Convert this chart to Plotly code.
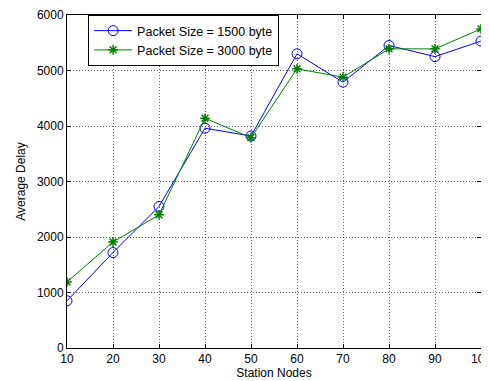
import plotly.graph_objects as go

station_nodes = [10, 20, 30, 40, 50, 60, 70, 80, 90, 100]
delay_1500 = [850, 1720, 2550, 3960, 3820, 5300, 4790, 5450, 5250, 5530]
delay_3000 = [1190, 1910, 2400, 4140, 3790, 5030, 4880, 5390, 5390, 5750]
x_ticks = [10, 20, 30, 40, 50, 60, 70, 80, 90, 100]
y_ticks = [0, 1000, 2000, 3000, 4000, 5000, 6000]

font = dict(family="Liberation Sans, Arial, sans-serif", size=12, color="black")
legend_font = dict(family="Liberation Sans, Arial, sans-serif", size=12.5, color="black")

fig = go.Figure()
fig.add_trace(go.Scatter(
    x=station_nodes, y=delay_1500, mode="lines+markers",
    name="Packet Size = 1500 byte",
    line=dict(color="#0000ff", width=1),
    marker=dict(symbol="circle-open", size=10, color="#0000ff", line=dict(width=1)),
))
fig.add_trace(go.Scatter(
    x=station_nodes, y=delay_3000, mode="lines+markers",
    name="Packet Size = 3000 byte",
    line=dict(color="#008000", width=1),
    marker=dict(symbol="asterisk-open", size=8, color="#008000", line=dict(width=1.5, color="#008000")),
))

axis_common = dict(
    showline=True, linecolor="black", linewidth=1, mirror="ticks",
    ticks="inside", ticklen=4, tickcolor="black",
    showgrid=True, gridcolor="rgba(0,0,0,0.6)", griddash="1px,2px", gridwidth=1,
    zeroline=False, tickfont=font, automargin=False, ticklabeloverflow="allow",
)

# page body has an 8px margin, so the figure is sized/offset to compensate
fig.update_layout(
    width=481, height=373,
    margin=dict(l=59, r=8, t=7, b=33),
    paper_bgcolor="white", plot_bgcolor="white",
    font=font,
    showlegend=True,
    legend=dict(
        x=0.051, y=1, xanchor="left", yanchor="top",
        bgcolor="white", bordercolor="black", borderwidth=1,
        font=legend_font, tracegroupgap=0, itemwidth=38,
    ),
    xaxis=dict(range=[10, 100], tickvals=x_ticks,
               title=dict(text="Station Nodes", font=font, standoff=1), **axis_common),
    yaxis=dict(range=[0, 6000], tickvals=y_ticks,
               title=dict(text="Average Delay", font=font, standoff=8), **axis_common),
)

fig.write_html("out.html")
